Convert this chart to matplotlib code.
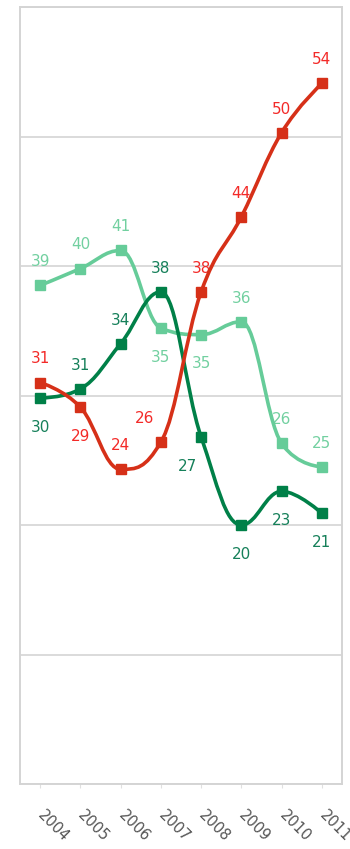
import matplotlib
matplotlib.use("Agg")
import matplotlib.pyplot as plt
from matplotlib.path import Path
from matplotlib.patches import PathPatch

years = ["2004", "2005", "2006", "2007", "2008", "2009", "2010", "2011"]

red_vals = [31.0, 29.1, 24.3, 26.4, 38.0, 43.8, 50.3, 54.1]
dark_vals = [29.8, 30.5, 34.0, 38.0, 26.8, 20.0, 22.6, 20.9]
light_vals = [38.5, 39.8, 41.2, 35.2, 34.7, 35.7, 26.3, 24.5]

red_labels = [31, 29, 24, 26, 38, 44, 50, 54]
dark_labels = [30, 31, 34, 38, 27, 20, 23, 21]
light_labels = [39, 40, 41, 35, 35, 36, 26, 25]


def spline_path(xs, ys, smoothing=1.5):
    """Кривая как у highcharts spline (кубические Безье)."""
    n = len(xs)
    denom = smoothing + 1
    left = [None] * n
    right = [None] * n
    for i in range(1, n - 1):
        x, y = xs[i], ys[i]
        lx, ly = xs[i - 1], ys[i - 1]
        nx, ny = xs[i + 1], ys[i + 1]
        lcx = (smoothing * x + lx) / denom
        lcy = (smoothing * y + ly) / denom
        rcx = (smoothing * x + nx) / denom
        rcy = (smoothing * y + ny) / denom
        corr = (rcy - lcy) * (rcx - x) / (rcx - lcx) + y - rcy
        lcy += corr
        rcy += corr
        if lcy > ly and lcy > y:
            lcy = max(ly, y)
            rcy = 2 * y - lcy
        elif lcy < ly and lcy < y:
            lcy = min(ly, y)
            rcy = 2 * y - lcy
        if rcy > ny and rcy > y:
            rcy = max(ny, y)
            lcy = 2 * y - rcy
        elif rcy < ny and rcy < y:
            rcy = min(ny, y)
            lcy = 2 * y - rcy
        left[i] = (lcx, lcy)
        right[i] = (rcx, rcy)
    verts = [(xs[0], ys[0])]
    codes = [Path.MOVETO]
    for i in range(1, n):
        c1 = right[i - 1] if right[i - 1] is not None else (xs[i - 1], ys[i - 1])
        c2 = left[i] if left[i] is not None else (xs[i], ys[i])
        verts += [c1, c2, (xs[i], ys[i])]
        codes += [Path.CURVE4] * 3
    return Path(verts, codes)


fig = plt.figure(figsize=(3.5, 8.49), dpi=100)
ax = fig.add_axes([20 / 350, 65 / 849, 322 / 350, 777 / 849])

x = list(range(len(years)))

series = [
    (light_vals, light_labels, "#66cc99", "#72d0a0",
     ["a", "a", "a", "b", "b", "a", "a", "a"]),
    (dark_vals, dark_labels, "#008048", "#16805a",
     ["b", "a", "a", "a", "b", "b", "b", "b"]),
    (red_vals, red_labels, "#d63018", "#f32a28",
     ["a", "b", "a", "a", "a", "a", "a", "a"]),
]

for k, (vals, labs, col, tcol, place) in enumerate(series):
    z = 3 + k
    ax.add_patch(PathPatch(spline_path(x, vals), facecolor="none",
                           edgecolor=col, lw=2.6, zorder=z,
                           capstyle="round", joinstyle="round"))
    ax.plot(x, vals, ls="none", marker="s", ms=7.5, color=col, zorder=z)
    for i, (v, lab) in enumerate(zip(vals, labs)):
        dy = 17 if place[i] == "a" else -21
        dx = 0
        if col == "#d63018" and i == 3:
            dx = -11.5
        if col == "#008048" and i == 4:
            dx = -9.5
        ax.annotate(str(lab), (i, v), xytext=(dx, dy),
                    textcoords="offset points", ha="center", va="center",
                    fontsize=11, color=tcol, zorder=2)

ax.set_xlim(-0.5, 7.5)
ax.set_ylim(0, 60)
ax.set_yticks(range(0, 61, 10))
ax.yaxis.grid(True, color="#d4d4d4", lw=1.2)
ax.set_axisbelow(True)
ax.tick_params(axis="y", left=False, labelleft=False)
for s in ax.spines.values():
    s.set_color("#d4d4d4")
    s.set_linewidth(1.4)

ax.set_xticks(x)
ax.set_xticklabels(years, rotation=-45, ha="left", va="center",
                   rotation_mode="anchor", color="#555555", fontsize=10.5)
ax.tick_params(axis="x", length=3, color="#e0e0e0", pad=18)

fig.savefig("out.png", dpi=100)
